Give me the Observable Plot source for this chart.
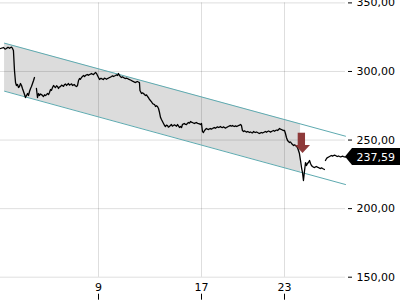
<!DOCTYPE html>
<html><head><meta charset="utf-8">
<script src="https://cdn.jsdelivr.net/npm/d3@7"></script>
<script src="https://cdn.jsdelivr.net/npm/@observablehq/plot@0.6"></script>
<style>body{margin:0;background:#fff;}#chart svg{display:block;}</style>
</head><body><div id="chart"></div>
<script>
// price path, pieces: [day, price]
const segA = [[1.50,316.75],[1.65,317.20],[1.73,317.48],[1.85,316.30],[1.96,316.75],[2.04,317.60],[2.11,317.48],[2.20,316.90],[2.27,317.48],[2.35,317.80],[2.42,316.75],[2.49,315.29],[2.57,300.70],[2.65,291.95],[2.72,289.76],[2.80,290.49],[2.88,288.31],[2.95,289.04],[3.03,291.22],[3.11,289.76],[3.18,287.58],[3.26,285.39],[3.34,283.20],[3.41,281.01],[3.49,282.47],[3.57,283.93],[3.64,282.47],[3.72,285.39],[3.80,287.58],[3.87,289.04],[3.95,291.22],[4.03,293.41],[4.10,295.60]];
const segB = [[4.25,287.58],[4.33,281.01],[4.41,283.93],[4.48,282.47],[4.56,283.60],[4.64,283.20],[4.72,282.30],[4.79,281.74],[4.87,283.00],[4.94,282.47],[5.02,283.10],[5.10,283.93],[5.18,283.20],[5.25,284.66],[5.33,286.85],[5.40,286.20],[5.48,288.31],[5.56,289.76],[5.63,288.90],[5.71,288.31],[5.79,289.60],[5.86,289.04],[5.94,287.58],[6.01,288.80],[6.09,289.04],[6.17,290.10],[6.24,289.76],[6.32,289.10],[6.40,290.49],[6.48,290.90],[6.55,289.76],[6.63,290.60],[6.70,291.22],[6.78,290.10],[6.86,290.49],[6.94,291.00],[7.01,289.76],[7.09,290.20],[7.16,290.49],[7.24,289.40],[7.32,289.04],[7.39,289.76],[7.47,293.41],[7.55,294.87],[7.62,294.30],[7.70,295.60],[7.78,296.40],[7.85,297.06],[7.93,296.30],[8.01,297.06],[8.08,297.60],[8.16,297.79],[8.24,297.20],[8.31,297.79],[8.39,298.10],[8.46,298.52],[8.54,298.00],[8.62,297.79],[8.70,298.60],[8.77,299.24],[8.85,298.52]];
const segC = [[9.00,295.60],[9.08,294.14],[9.16,295.00],[9.23,294.87],[9.31,294.40],[9.39,294.14],[9.46,295.20],[9.54,294.87],[9.62,294.30],[9.70,294.87],[9.77,295.10],[9.85,295.60],[9.93,295.90],[10.01,296.33],[10.09,296.80],[10.17,296.33],[10.24,296.70],[10.32,297.06],[10.40,297.50],[10.48,297.06],[10.55,298.52],[10.63,297.06],[10.71,296.20],[10.79,295.60],[10.86,296.10],[10.94,295.60],[11.02,295.10],[11.10,294.87],[11.17,295.20],[11.25,294.87],[11.33,294.40],[11.41,294.14],[11.48,293.80],[11.56,293.41],[11.64,292.90],[11.72,292.68],[11.79,292.20],[11.87,291.95],[11.95,292.40],[12.03,292.68],[12.10,292.30],[12.18,291.95],[12.22,286.12],[12.28,285.00],[12.34,283.93],[12.42,284.40],[12.50,283.93],[12.57,283.20],[12.65,282.47],[12.73,282.90],[12.81,281.74],[12.88,280.90],[12.96,279.55],[13.04,278.83],[13.12,277.80],[13.20,276.64],[13.27,276.20],[13.35,275.91],[13.43,274.45],[13.50,275.00],[13.58,274.45],[13.66,272.99],[13.74,270.07],[13.82,266.43],[13.89,264.97],[13.97,263.51],[14.05,262.05],[14.12,260.80],[14.20,259.87],[14.28,260.90],[14.36,260.59],[14.43,259.40],[14.51,259.87],[14.59,260.70],[14.67,261.32],[14.74,260.20],[14.82,260.59],[14.90,261.10],[14.98,260.59],[15.06,260.10],[15.14,261.32],[15.21,260.30],[15.29,259.14],[15.37,259.87],[15.45,259.14],[15.52,261.32],[15.60,261.80],[15.68,262.05],[15.76,261.40],[15.83,261.32],[15.91,262.20],[15.99,262.78],[16.07,262.30],[16.15,263.51],[16.22,263.00],[16.30,262.78],[16.38,262.40],[16.46,262.05],[16.53,262.60],[16.61,262.78],[16.69,262.20],[16.77,262.05],[16.84,261.80],[16.92,261.32]];
const segD = [[17.00,262.05],[17.07,256.22],[17.14,255.49],[17.22,256.95],[17.29,257.80],[17.36,258.41],[17.43,257.90],[17.51,257.68],[17.58,258.20],[17.65,258.41],[17.72,258.00],[17.80,258.41],[17.87,258.90],[17.94,259.14],[18.01,258.60],[18.08,259.14],[18.15,259.60],[18.23,259.14],[18.30,259.40],[18.37,259.87],[18.44,259.30],[18.52,259.14],[18.59,259.60],[18.66,259.14],[18.73,258.70],[18.81,259.14],[18.88,259.60],[18.95,259.87],[19.02,260.30],[19.10,260.59],[19.17,260.10],[19.24,260.59],[19.31,260.20],[19.39,259.87],[19.46,260.30],[19.53,259.87],[19.60,260.20],[19.67,260.59],[19.75,260.90],[19.82,261.32],[19.89,260.59]];
const segE = [[19.96,256.95],[20.04,256.22],[20.11,256.70],[20.18,256.22],[20.26,255.80],[20.33,256.22],[20.40,255.90],[20.47,255.49],[20.54,255.90],[20.61,255.49],[20.69,255.20],[20.76,256.22],[20.83,255.80],[20.90,255.49],[20.98,255.90],[21.05,255.49],[21.12,255.10],[21.19,254.76],[21.27,255.20],[21.34,255.49],[21.41,255.10],[21.48,255.49],[21.56,255.90],[21.63,256.22],[21.70,255.70],[21.77,256.22],[21.85,256.60],[21.92,256.22],[21.99,255.80],[22.06,256.22],[22.13,256.60],[22.20,256.95],[22.28,256.40],[22.35,256.95],[22.42,257.30],[22.49,256.95],[22.57,257.60],[22.64,258.41],[22.71,258.00],[22.78,257.68],[22.86,257.30],[22.93,256.95]];
const segF = [[23.00,256.95],[23.07,254.76],[23.14,251.84],[23.22,249.66],[23.29,248.90],[23.36,248.20],[23.44,248.60],[23.51,247.47],[23.58,246.80],[23.65,246.01],[23.73,246.50],[23.80,246.01],[23.87,245.30],[23.94,244.55],[24.01,242.36],[24.08,240.17],[24.16,235.07],[24.23,229.97],[24.30,226.32],[24.37,220.49],[24.45,227.78],[24.52,233.61],[24.59,231.42],[24.66,232.88],[24.73,233.61],[24.81,235.07],[24.88,232.88],[24.95,231.42],[25.02,230.70],[25.10,230.20],[25.17,229.97],[25.24,230.40],[25.31,230.70],[25.38,230.20],[25.46,229.97],[25.53,229.50],[25.60,229.24],[25.68,229.70],[25.75,229.24],[25.82,228.90],[25.89,228.51]];
const segG = [[25.96,235.07],[26.04,236.53],[26.11,237.26],[26.18,237.60],[26.25,237.99],[26.33,238.40],[26.40,238.72],[26.47,238.30],[26.54,238.72],[26.62,239.00],[26.69,238.72],[26.76,238.30],[26.83,237.99],[26.91,238.40],[26.98,237.99],[27.05,237.70],[27.12,237.99],[27.20,238.20],[27.27,237.99],[27.34,237.80],[27.41,237.59]];
// which continuous trace each piece belongs to (the picture shows breaks after A and before G)
const segTrace = [0, 1, 1, 1, 1, 1, 2];

// regression channel
const channelT = [1.81, 27.41];
const channelUpper = [320.61, 252.79];
const channelLower = [285.61, 217.57];
const shadeT = [1.81, 24.16];
const shadeUpper = [320.61, 261.74];
const shadeLower = [285.61, 226.55];

// sell signal arrow
const signalShaftT = [23.99, 24.52];
const signalShaftPrice = [246.01, 254.98];
const signalHeadT = [23.80, 24.34, 24.88];
const signalHeadPrice = [246.01, 240.17];

const lastT = 27.41;
const lastPrice = 237.59;

const xTicks = [9, 17, 23];
const yTicks = [150, 200, 250, 300, 350];
const xDomain = [1.5, 9, 17, 23, 27.41];

// ---- build tables ----
const segments = [segA, segB, segC, segD, segE, segF, segG];
const priceRows = segments.flatMap((s, i) => s.map(([t, p]) => ({t, p, trace: segTrace[i]})));
const channelRows = channelT.map((t, i) => ({t, hi: channelUpper[i], lo: channelLower[i]}));
const shadeRows = shadeT.map((t, i) => ({t, hi: shadeUpper[i], lo: shadeLower[i]}));
const headRows = [
  {p: signalHeadPrice[0], a: signalHeadT[0], b: signalHeadT[2]},
  {p: signalHeadPrice[1], a: signalHeadT[1], b: signalHeadT[1]}
];
const fmt = d => d3.format(".2f")(d).replace(".", ",");
const red = "#8e3a3a";
const teal = "#5eaab0";

const chart = Plot.plot({
  width: 400, height: 300,
  marginTop: 2.4, marginBottom: 23.3, marginLeft: 0, marginRight: 55,
  style: {fontFamily: "DejaVu Sans", fontSize: "11px", background: "#fff", color: "#000"},
  x: {type: "linear", domain: xDomain, range: [0, 98, 201, 284, 345]},
  y: {domain: [150, 350]},
  marks: [
    Plot.areaY(shadeRows, {x: "t", y1: "lo", y2: "hi", fill: "#dcdcdc"}),
    Plot.gridX(xTicks, {stroke: "#000", strokeOpacity: 0.13}),
    Plot.gridY(yTicks, {stroke: "#000", strokeOpacity: 0.13}),
    Plot.line(channelRows, {x: "t", y: "hi", stroke: teal, strokeWidth: 1}),
    Plot.line(channelRows, {x: "t", y: "lo", stroke: teal, strokeWidth: 1}),
    Plot.line(priceRows, {x: "t", y: "p", z: "trace", stroke: "#000", strokeWidth: 1.3}),
    Plot.rect([0], {x1: () => signalShaftT[0], x2: () => signalShaftT[1], y1: () => signalShaftPrice[0], y2: () => signalShaftPrice[1], fill: red}),
    Plot.areaX(headRows, {y: "p", x1: "a", x2: "b", fill: red}),
    Plot.axisY(yTicks, {anchor: "right", tickSize: 4, dx: 2, tickPadding: 5, tickFormat: fmt, fontSize: 11}),
    Plot.axisX(xTicks, {anchor: "bottom", tickSize: 0, tickPadding: 6, fontSize: 11}),
    Plot.axisX(xTicks, {anchor: "bottom", tickSize: 6, dy: 17, tickFormat: () => ""}),
    (index, scales) => {
      const x0 = scales.x(lastT), y0 = scales.y(lastPrice);
      const g = d3.create("svg:g");
      g.append("path").attr("d", `M${x0},${y0}l7,-8.5h48v17h-48z`).attr("fill", "#000");
      g.append("text").attr("x", x0 + 11.5).attr("y", y0).attr("dy", "0.36em")
        .attr("text-anchor", "start")
        .attr("fill", "#fff").attr("font-size", 11).attr("font-family", "DejaVu Sans").text(fmt(lastPrice));
      return g.node();
    }
  ]
});
document.getElementById("chart").append(chart);
</script>
</body></html>
